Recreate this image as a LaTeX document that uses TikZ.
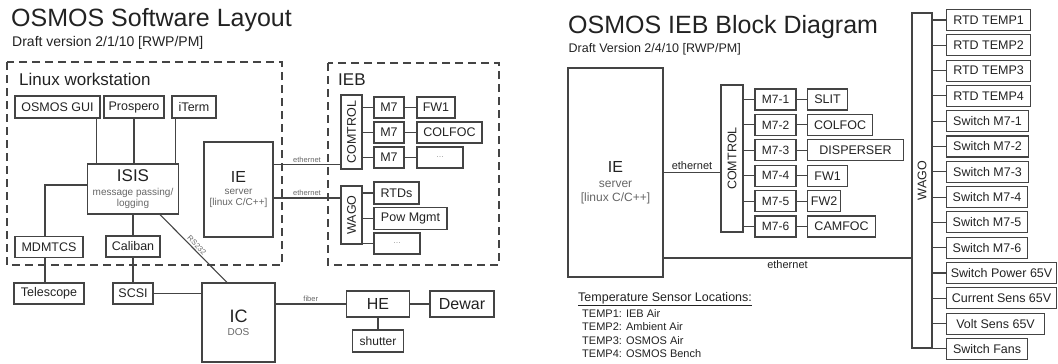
\documentclass[tikz,border=0pt]{standalone}
\usepackage{fontspec}
\setmainfont{Liberation Sans}
\usepackage{graphicx}
\usepackage{tikz}
\usetikzlibrary{positioning}
\usetikzlibrary{calc}

\definecolor{linegray}{HTML}{444444}
\definecolor{txtgray}{HTML}{666666}
\definecolor{txtdark}{HTML}{222222}

\tikzset{
  box/.style={draw=linegray, line width=1.1pt, inner sep=0pt, minimum height=21pt,
    text=txtdark, font=\fontsize{12.5}{14}\selectfont},
  wire/.style={draw=linegray, line width=1.1pt},
  frame/.style={draw=linegray, line width=2.2pt, dash pattern=on 8pt off 5pt},
  tiny/.style={font=\fontsize{7.5}{9}\selectfont, text=txtgray, inner sep=1.5pt},
  lbl/.style={font=\fontsize{11}{13}\selectfont, text=txtdark, inner sep=2pt},
  head/.style={anchor=base west, inner sep=0pt, text=txtdark},
}

\begin{document}
\begin{tikzpicture}[x=1pt, y=-1pt]
    \useasboundingbox (0,0) rectangle (1058,364);

    % software layout
    \node[head, font=\fontsize{25}{30}\selectfont] (title1) at (11,26.7) {OSMOS Software Layout};
    \node[head, font=\fontsize{14}{16}\selectfont] (sub1) at (12,46) {Draft version 2/1/10 [RWP/PM]};

    \draw[frame] (7,62) rectangle (282,265);
    \draw[frame] (328,63) rectangle (499,265);
    \node[head, font=\fontsize{17}{20}\selectfont] (ws) at (19,85.5) {Linux workstation};
    \node[head, font=\fontsize{17}{20}\selectfont] (ieb) at (338,85) {IEB};

    \node[box, minimum width=85pt, minimum height=22pt] (gui) at (57.5,107) {OSMOS GUI};
    \node[box, minimum width=60pt, minimum height=22pt] (prospero) at (134,107) {Prospero};
    \node[box, minimum width=44pt, minimum height=22pt] (iterm) at (194,107) {iTerm};
    \node[box, minimum width=91pt, minimum height=50pt, align=center, font=\fontsize{10}{11}\selectfont] (isis) at (133,189)
        {{\fontsize{17}{18}\selectfont ISIS}\\[3pt]{\color{txtgray}message passing/}\\{\color{txtgray}logging}};
    \node[box, minimum width=68pt] (mdmtcs) at (49,247) {MDMTCS};
    \node[box, minimum width=54pt] (caliban) at (133,246.5) {Caliban};
    \node[box, minimum width=70pt] (telescope) at (49,293.5) {Telescope};
    \node[box, minimum width=40pt] (scsi) at (133,293.5) {SCSI};
    \node[box, minimum width=73pt, minimum height=79pt, align=center, font=\fontsize{10}{11}\selectfont] (ic) at (238.5,322.5)
        {{\fontsize{18}{19}\selectfont IC}\\[2pt]{\color{txtgray}DOS}};
    \node[box, minimum width=69pt, minimum height=95pt, align=center, font=\fontsize{10}{11}\selectfont] (ie1) at (238.5,189.5)
        {{\fontsize{16}{17}\selectfont IE}\\[1pt]{\color{txtgray}server}\\{\color{txtgray}[linux C/C++]}};
    \node[box, minimum width=63pt, minimum height=26pt, font=\fontsize{16}{18}\selectfont] (he) at (378,304) {HE};
    \node[box, minimum width=64pt, minimum height=26pt, font=\fontsize{16}{18}\selectfont] (dewar) at (462,304) {Dewar};
    \node[box, minimum width=51pt, minimum height=22pt, font=\fontsize{12}{14}\selectfont] (shutter) at (378,341) {shutter};

    \node[box, minimum width=21pt, minimum height=74pt] (comtrol1) at (351.5,132) {\rotatebox{90}{COMTROL}};
    \node[box, minimum width=30pt] (m7a) at (389,107.5) {M7};
    \node[box, minimum width=30pt] (m7b) at (389,132.5) {M7};
    \node[box, minimum width=30pt] (m7c) at (389,157.5) {M7};
    \node[box, minimum width=38pt] (fw1) at (436,107.5) {FW1};
    \node[box, minimum width=65pt] (colfoc1) at (449.5,132.5) {COLFOC};
    \node[box, minimum width=46pt, text=txtgray!60, font=\fontsize{9}{10}\selectfont] (more1) at (440,157.5) {...};
    \node[box, minimum width=21pt, minimum height=58pt] (wago1) at (351.5,215) {\rotatebox{90}{WAGO}};
    \node[box, minimum width=45pt, minimum height=22pt] (rtds) at (396.5,193) {RTDs};
    \node[box, minimum width=73pt, minimum height=22pt] (powm) at (410.5,218.5) {Pow Mgmt};
    \node[box, minimum width=46pt, text=txtgray!60, font=\fontsize{9}{10}\selectfont] (more2) at (397,243.5) {...};

    \coordinate (gui out) at ([xshift=-4pt]gui.south east);
    \coordinate (iterm out) at ([xshift=4pt]iterm.south west);
    \draw[wire] (gui out) -- (gui out |- isis.north);
    \draw[wire] (prospero.south) -- (prospero.south |- isis.north);
    \draw[wire] (iterm out) -- (iterm out |- isis.north);
    \draw[wire] ([yshift=4pt]isis.west) -| ([xshift=-4pt]mdmtcs.north);
    \draw[wire] ([xshift=-4pt]mdmtcs.south) -- ([xshift=-4pt]telescope.north);
    \draw[wire] (isis) -- (caliban);
    \draw[wire] (caliban) -- (scsi);
    \draw[wire] (scsi.east) -- (scsi.east -| ic.west);
    \draw[wire] ([xshift=27pt]isis.south) -- node[tiny, sloped, above, pos=0.5] (rs) {RS232} ([xshift=-11.5pt]ic.north);
    \draw[wire] (he.west -| ic.east) -- node[tiny, above] (fib) {fiber} (he.west);
    \draw[wire] (he) -- (dewar);
    \draw[wire] (he) -- (shutter);

    \coordinate (eth1) at ([yshift=5pt]comtrol1.south west);
    \coordinate (eth2) at ([yshift=17pt]wago1.west);
    \draw[wire] (eth1 -| ie1.east) -- node[tiny, above] (lbl1) {ethernet} (eth1);
    \draw[wire] (eth2 -| ie1.east) -- node[tiny, above] (lbl2) {ethernet} (eth2);
    \draw[wire] (m7a -| comtrol1.east) -- (m7a);
    \draw[wire] (m7b -| comtrol1.east) -- (m7b);
    \draw[wire] (m7c -| comtrol1.east) -- (m7c);
    \draw[wire] (m7a) -- (fw1);
    \draw[wire] (m7b) -- (colfoc1);
    \draw[wire] (m7c) -- (more1);
    \draw[wire] (rtds -| wago1.east) -- (rtds);
    \draw[wire] (powm -| wago1.east) -- (powm);
    \draw[wire] (more2 -| wago1.east) -- (more2);

    % IEB block diagram
    \node[head, font=\fontsize{25}{30}\selectfont] (title2) at (568,33.3) {OSMOS IEB Block Diagram};
    \node[head, font=\fontsize{12.5}{14}\selectfont] (sub2) at (568.5,52) {Draft Version 2/4/10 [RWP/PM]};

    \node[box, minimum width=95pt, minimum height=209pt, align=center, font=\fontsize{12}{14.5}\selectfont] (ie2) at (615.5,172.5)
        {\rule{0pt}{31pt}{\fontsize{16}{17}\selectfont IE}\\[0.5pt]{\color{txtgray}server}\\{\color{txtgray}[linux C/C++]}};
    \node[box, minimum width=22pt, minimum height=147pt] (comtrol2) at (732,158.5) {\rotatebox{90}{COMTROL}};

    \node[box, minimum width=41pt, font=\fontsize{12}{14}\selectfont] (m71) at (775.5,99.5) {M7-1};
    \node[box, minimum width=41pt, font=\fontsize{12}{14}\selectfont] (m72) at (775.5,124.9) {M7-2};
    \node[box, minimum width=41pt, font=\fontsize{12}{14}\selectfont] (m73) at (775.5,150.3) {M7-3};
    \node[box, minimum width=41pt, font=\fontsize{12}{14}\selectfont] (m74) at (775.5,175.7) {M7-4};
    \node[box, minimum width=41pt, font=\fontsize{12}{14}\selectfont] (m75) at (775.5,201.1) {M7-5};
    \node[box, minimum width=41pt, font=\fontsize{12}{14}\selectfont] (m76) at (775.5,226.5) {M7-6};
    \node[box, anchor=west, minimum width=40pt] (slit) at (807,99.5) {SLIT};
    \node[box, anchor=west, minimum width=65pt] (colfoc2) at (807,124.9) {COLFOC};
    \node[box, anchor=west, minimum width=96pt] (disp) at (807,150.3) {DISPERSER};
    \node[box, anchor=west, minimum width=40pt] (fw1b) at (807,175.7) {FW1};
    \node[box, anchor=west, minimum width=33pt] (fw2) at (807,201.1) {FW2};
    \node[box, anchor=west, minimum width=68pt] (camfoc) at (807,226.5) {CAMFOC};

    \node[box, minimum width=20pt, minimum height=335pt] (wago2) at (922,180.5) {\rotatebox{90}{WAGO}};
    \node[box, anchor=west, minimum width=84pt] (rt1) at (946,20) {RTD TEMP1};
    \node[box, anchor=west, minimum width=84pt] (rt2) at (946,45.3) {RTD TEMP2};
    \node[box, anchor=west, minimum width=84pt] (rt3) at (946,70.6) {RTD TEMP3};
    \node[box, anchor=west, minimum width=84pt] (rt4) at (946,95.9) {RTD TEMP4};
    \node[box, anchor=west, minimum width=82pt] (sw1) at (946,121.2) {Switch M7-1};
    \node[box, anchor=west, minimum width=82pt] (sw2) at (946,146.5) {Switch M7-2};
    \node[box, anchor=west, minimum width=82pt] (sw3) at (946,171.8) {Switch M7-3};
    \node[box, anchor=west, minimum width=81pt] (sw4) at (946,197.1) {Switch M7-4};
    \node[box, anchor=west, minimum width=81pt] (sw5) at (946,222.4) {Switch M7-5};
    \node[box, anchor=west, minimum width=81pt] (sw6) at (946,247.7) {Switch M7-6};
    \node[box, anchor=west, minimum width=110pt] (swpow) at (946,273) {Switch Power 65V};
    \node[box, anchor=west, minimum width=110pt] (cursens) at (946,298.3) {Current Sens 65V};
    \node[box, anchor=west, minimum width=98pt] (voltsens) at (946,323.6) {Volt Sens 65V};
    \node[box, anchor=west, minimum width=81pt] (swfans) at (946,348.9) {Switch Fans};

    \draw[wire] (ie2.east) -- node[lbl, above] (lbl3) {ethernet} (ie2.east -| comtrol2.west);
    \coordinate (eth4) at (wago2.west |- 0,258);
    \draw[wire] (eth4 -| ie2.east) -- node[lbl, below] (lbl4) {ethernet} (eth4);

    \draw[wire] (m71 -| comtrol2.east) -- (m71);
    \draw[wire] (m72 -| comtrol2.east) -- (m72);
    \draw[wire] (m73 -| comtrol2.east) -- (m73);
    \draw[wire] (m74 -| comtrol2.east) -- (m74);
    \draw[wire] (m75 -| comtrol2.east) -- (m75);
    \draw[wire] (m76 -| comtrol2.east) -- (m76);
    \draw[wire] (m71) -- (slit);
    \draw[wire] (m72) -- (colfoc2);
    \draw[wire] (m73) -- (disp);
    \draw[wire] (m74) -- (fw1b);
    \draw[wire] (m75) -- (fw2);
    \draw[wire] (m76) -- (camfoc);

    \draw[wire] (rt1 -| wago2.east) -- (rt1);
    \draw[wire] (rt2 -| wago2.east) -- (rt2);
    \draw[wire] (rt3 -| wago2.east) -- (rt3);
    \draw[wire] (rt4 -| wago2.east) -- (rt4);
    \draw[wire] (sw1 -| wago2.east) -- (sw1);
    \draw[wire] (sw2 -| wago2.east) -- (sw2);
    \draw[wire] (sw3 -| wago2.east) -- (sw3);
    \draw[wire] (sw4 -| wago2.east) -- (sw4);
    \draw[wire] (sw5 -| wago2.east) -- (sw5);
    \draw[wire] (sw6 -| wago2.east) -- (sw6);
    \draw[wire] (swpow -| wago2.east) -- (swpow);
    \draw[wire] (cursens -| wago2.east) -- (cursens);
    \draw[wire] (voltsens -| wago2.east) -- (voltsens);
    \draw[wire] (swfans -| wago2.east) -- (swfans);

    \node[head, font=\fontsize{12.5}{14}\selectfont] (tsl) at (578,301.5) {\underline{Temperature Sensor Locations:}};
    \node[head, font=\fontsize{11}{13.5}\selectfont, align=left, anchor=north west] (temps) at (582,309)
        {TEMP1: IEB Air\\TEMP2: Ambient Air\\TEMP3: OSMOS Air\\TEMP4: OSMOS Bench};
\end{tikzpicture}
\end{document}
